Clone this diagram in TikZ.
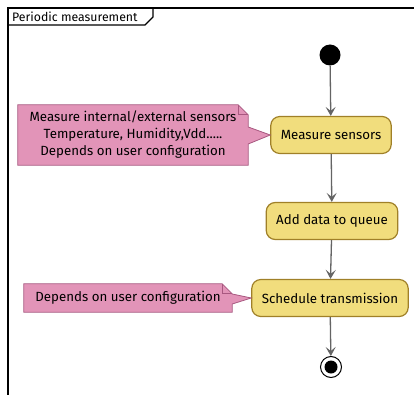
\documentclass[tikz,border=0pt]{standalone}
\usepackage{fontspec}
\setmainfont{Fira Sans}
\usetikzlibrary{arrows.meta, positioning}

\definecolor{actfill}{RGB}{241,221,125}
\definecolor{actline}{RGB}{160,128,40}
\definecolor{notefill}{RGB}{226,148,184}
\definecolor{noteline}{RGB}{168,88,128}
\definecolor{flowgray}{RGB}{100,100,100}

\tikzset{
  act/.style={draw=actline, fill=actfill, line width=1.2pt, rounded corners=9pt,
    inner xsep=10pt, minimum height=37pt, font=\fontsize{13.3}{15}\selectfont},
  notebox/.style={inner sep=0pt, align=center, font=\fontsize{13.3}{17}\selectfont},
  noteshape/.style={draw=noteline, fill=notefill, line width=0.8pt, line join=miter},
  flow/.style={draw=flowgray, line width=1.3pt, -{Stealth[length=9pt,width=10pt,inset=4pt]}},
  startdot/.style={circle, fill=black, minimum size=21pt, inner sep=0pt},
  stopdot/.style={circle, draw=black, fill=white, line width=1pt, minimum size=21pt, inner sep=0pt},
}

\begin{document}
\begin{tikzpicture}[x=1pt, y=-1pt]
\useasboundingbox (0,0) rectangle (414,395);
\fill [white] (0,0) rectangle (414,395);

% frame
\draw [line width=1.5pt] (8,400) -- (8,8) -- (420,8);
\draw [line width=1.2pt] (8,25) -- (145,25) -- (153,17) -- (153,8);
\node [anchor=west, inner sep=0pt, font=\fontsize{12.3}{14}\selectfont] (title) at (12,16.5) {Periodic measurement};

% activities
\node [startdot] (start) at (330,55) {};
\node [act] (measure) at (331,135) {Measure sensors};
\node [act] (queue) at (332,221) {Add data to queue};
\node [act] (sched) at (330,298) {Schedule transmission};
\node [stopdot] (stop) at (331,367) {};
\fill (stop) circle (6.5pt);

\draw [flow] (start) -- (measure);
\draw [flow] (measure) -- (queue);
\draw [flow] (queue) -- (sched);
\draw [flow] (sched) -- (stop);

% notes
\node [notebox, minimum width=230pt, minimum height=60pt] (note1) at (133,135) {};
\path [noteshape] (note1.south west) -- (note1.north west) -- ([xshift=-10pt]note1.north east)
  -- ([yshift=-10pt]note1.north east) -- ([yshift=8pt]note1.east) -- (measure.west)
  -- ([yshift=-9pt]note1.east) -- (note1.south east) -- cycle;
\draw [noteshape, fill=none] ([xshift=-10pt]note1.north east) -- ([xshift=-10pt, yshift=-10pt]note1.north east)
  -- ([yshift=-10pt]note1.north east);
\node [notebox] at (note1) {Measure internal/external sensors\\Temperature, Humidity,Vdd.....\\Depends on user configuration};

\node [notebox, minimum width=208pt, minimum height=28pt] (note2) at (128,298) {};
\path [noteshape] (note2.south west) -- (note2.north west) -- ([xshift=-10pt]note2.north east)
  -- ([yshift=-10pt]note2.north east) -- ([yshift=4pt]note2.east) -- (sched.west)
  -- ([yshift=-6pt]note2.east) -- (note2.south east) -- cycle;
\draw [noteshape, fill=none] ([xshift=-10pt]note2.north east) -- ([xshift=-10pt, yshift=-10pt]note2.north east)
  -- ([yshift=-10pt]note2.north east);
\node [notebox] at (note2) {Depends on user configuration};
\end{tikzpicture}
\end{document}
